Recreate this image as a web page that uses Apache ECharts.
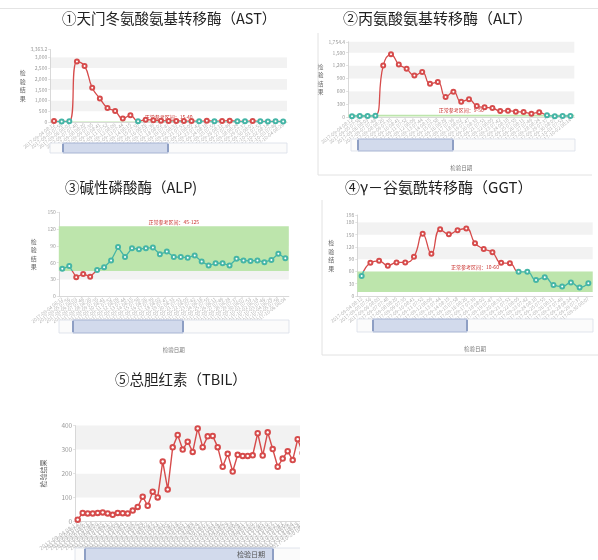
<!DOCTYPE html>
<html><head><meta charset="utf-8">
<script src="https://cdn.jsdelivr.net/npm/echarts@6/dist/echarts.min.js"></script>
<style>html,body{margin:0;padding:0;background:#fff}#c{width:598px;height:560px}</style>
</head><body><div id="c"></div>
<script>
// ---- data ----
const checkDates = ["2017-09-04 08:12","2017-09-05 07:56","2017-09-06 08:03","2017-09-07 07:48","2017-09-08 08:20","2017-09-09 07:35","2017-09-10 08:41","2017-09-11 07:52","2017-09-12 08:09","2017-09-13 07:44","2017-09-14 08:15","2017-09-15 07:58","2017-09-16 08:26","2017-09-17 07:39","2017-09-18 08:02","2017-09-19 07:47","2017-09-20 08:33","2017-09-21 07:51","2017-09-22 08:05","2017-09-23 07:42","2017-09-24 08:18","2017-09-25 07:55","2017-09-26 08:11","2017-09-27 07:49","2017-09-28 08:24","2017-09-29 07:37","2017-09-30 08:07","2017-10-01 07:53","2017-10-02 08:14","2017-10-03 07:46","2017-10-04 08:29","2017-10-05 07:58","2017-10-06 08:04","2017-10-07 07:41","2017-10-08 08:17","2017-10-09 07:50","2017-10-10 08:22","2017-10-11 07:45","2017-10-12 08:10","2017-10-13 07:57","2017-10-14 08:31","2017-10-15 07:43","2017-10-16 08:06","2017-10-17 07:54","2017-10-18 08:19","2017-10-19 07:48","2017-10-20 08:13"];

const astValues = [45, 25, 30, 2802.7, 2600, 1590, 1090, 650, 510, 160, 310, 30, 110, 80, 60, 50, 48, 45, 42, 35, 55, 38, 52, 58, 35, 32, 50, 30, 28, 33, 25];
const altValues = [20, 25, 22, 30, 1200, 1462, 1225, 1124, 969, 1047, 775, 814, 465, 590, 357, 412, 256, 225, 210, 140, 148, 124, 116, 78, 109, 39, 20, 22, 25];
const alpValues = [49, 54, 34, 40, 35, 47, 52, 64, 88, 70, 86, 84, 86, 87, 75, 80, 70, 70, 69, 73, 62, 55, 59, 59, 55, 67, 64, 63, 64, 61, 65, 76, 68];
const ggtValues = [49, 81, 86, 74, 82, 82, 96, 152, 103, 163, 151, 161, 165, 129, 115, 107, 81, 80, 59, 59, 39, 46, 27, 23, 33, 21, 31];
const tbilValues = [7, 35, 33, 33, 35, 37, 33, 27, 35, 34, 33, 45, 60, 103, 65, 124, 100, 250, 133, 309, 361, 300, 333, 290, 388, 310, 355, 357, 310, 228, 282, 208, 278, 273, 273, 276, 368, 275, 372, 302, 228, 262, 293, 256, 343, 285, 300];

const astRange = [15, 40];
const altRange = [9, 50];
const alpRange = [45, 125];
const ggtRange = [10, 60];

const panelTitles = ["①天门冬氨酸氨基转移酶（AST）", "②丙氨酸氨基转移酶（ALT）", "③碱性磷酸酶（ALP)", "④γ－谷氨酰转移酶（GGT）", "⑤总胆红素（TBIL）"];
const yName = "检验结果";
const xName = "检验日期";
const rangeLabel = "正常参考区间：";

// ---- style ----
const RED = '#d64b4b', TEAL = '#45b5a6', GREEN = '#bde5ac', FONT = '"Noto Sans CJK SC", "Noto Sans", sans-serif';

const panels = [
  {values: astValues, range: astRange, grid: {left: 50.2, top: 49.5, width: 236.8, height: 72.5}, interval: 500, smooth: true, yGap: 18, xGap: null},
  {values: altValues, range: altRange, grid: {left: 348.1, top: 41.8, width: 226.2, height: 75.2}, interval: 300, smooth: true, yGap: 21, xGap: 48},
  {values: alpValues, range: alpRange, grid: {left: 58.8, top: 212.3, width: 230, height: 84}, interval: 30, smooth: false, yGap: 22, xGap: 51},
  {values: ggtValues, range: ggtRange, grid: {left: 357.3, top: 215, width: 235.4, height: 81}, interval: 30, smooth: true, yGap: 23, xGap: 50},
  {values: tbilValues, range: null, grid: {left: 75.2, top: 425.6, width: 235, height: 95.7}, interval: 100, smooth: false, yGap: 28, xGap: null}
];

const grids = [], xAxes = [], yAxes = [], series = [], visualMaps = [];
panels.forEach((p, i) => {
  grids.push(Object.assign({containLabel: false}, p.grid));
  const isT = i === 4;
  let yMax;
  if (p.range) {
    yMax = Math.round(Math.max(Math.max(...p.values), p.range[1]) * 1.2 * 10) / 10;
  } else {
    yMax = 400;
  }
  xAxes.push({
    gridIndex: i, type: 'category', data: checkDates.slice(0, p.values.length), boundaryGap: true,
    axisLine: {lineStyle: {color: '#cfcfcf', width: 0.8}},
    axisTick: {length: 2, lineStyle: {color: '#d8d8d8', width: 0.6}},
    axisLabel: {interval: 0, rotate: isT ? 34 : 38, fontSize: isT ? 5.8 : 4.9, color: '#b4b4b4', margin: 2, fontFamily: FONT},
    name: p.xGap ? xName : '', nameLocation: 'middle', nameGap: p.xGap || 0,
    nameTextStyle: {fontSize: 5.5, color: '#777', fontFamily: FONT}
  });
  yAxes.push({
    gridIndex: i, type: 'value', min: 0, max: yMax, interval: p.interval,
    axisLine: {show: true, lineStyle: {color: '#cfcfcf', width: 0.8}},
    axisTick: {show: true, length: 2, lineStyle: {color: '#cfcfcf', width: 0.6}},
    axisLabel: {fontSize: isT ? 6.5 : 5, color: '#9a9a9a', margin: 3, fontFamily: FONT},
    splitLine: {show: false},
    splitArea: {show: true, areaStyle: {color: ['#ffffff', '#f2f2f2']}},
    name: isT ? yName : yName.split('').join('\n'), nameLocation: 'middle', nameRotate: isT ? 90 : 0, nameGap: p.yGap,
    nameTextStyle: {fontSize: isT ? 7 : 6, lineHeight: 8.5, color: '#666', fontFamily: FONT}
  });
  const s = {
    type: 'line', xAxisIndex: i, yAxisIndex: i, data: p.values, smooth: p.smooth,
    symbol: 'emptyCircle', symbolSize: isT ? 4.5 : 4, showAllSymbol: true,
    lineStyle: {width: isT ? 1.4 : 1.3}, itemStyle: {color: RED, borderWidth: isT ? 1 : 0.7}, z: 5
  };
  if (p.range) {
    s.markArea = {
      silent: true, itemStyle: {color: GREEN},
      label: {show: true, position: 'top', formatter: rangeLabel + p.range[0] + '-' + p.range[1], color: '#c9302c', fontSize: 5, fontFamily: FONT, distance: 2},
      data: [[{yAxis: p.range[0]}, {yAxis: p.range[1]}]]
    };
    visualMaps.push({type: 'piecewise', show: false, seriesIndex: i, dimension: 1,
      pieces: [{gte: p.range[0], lte: p.range[1], color: TEAL}], outOfRange: {color: RED}});
  }
  series.push(s);
});

// ---- decorations: titles, slider bars, frames ----
function txt(x, y, text, size, color, extra) {
  return Object.assign({type: 'text', x: x, y: y, z: 50, style: {text: text, fontSize: size, fontFamily: FONT, fill: color, verticalAlign: 'top'}}, extra || {});
}
function slider(x1, x2, y, h, w1, w2) {
  return [
    {type: 'rect', z: 20, shape: {x: x1, y: y, width: x2 - x1, height: h}, style: {fill: '#fbfbfb', stroke: '#d9dee8', lineWidth: 0.8}},
    {type: 'rect', z: 21, shape: {x: w1, y: y, width: w2 - w1, height: h}, style: {fill: 'rgba(160,178,218,0.45)', stroke: '#a8b6d6', lineWidth: 0.8}},
    {type: 'rect', z: 22, shape: {x: w1 - 1, y: y + 1, width: 2, height: h - 2}, style: {fill: '#8e9fc4'}},
    {type: 'rect', z: 22, shape: {x: w2 - 1, y: y + 1, width: 2, height: h - 2}, style: {fill: '#8e9fc4'}}
  ];
}
function ln(x1, y1, x2, y2, c) {
  return {type: 'line', z: 30, shape: {x1: x1, y1: y1, x2: x2, y2: y2}, style: {stroke: c || '#e2e2e2', lineWidth: 1}};
}

const elements = [].concat(
  [ln(0, 8.5, 598, 8.5, '#e4e4e4'),
   ln(318, 33, 318, 175), ln(318, 175, 592, 175),
   ln(322, 200, 322, 355), ln(322, 355, 598, 355)],
  slider(50, 287, 143, 10, 63, 168),
  slider(351, 575, 139, 12, 358, 453),
  slider(59, 289, 320, 13, 73, 183),
  slider(357, 593, 319, 13, 373, 467),
  slider(75, 310, 548, 14, 85, 273),
  [{type: 'rect', z: 40, shape: {x: 300, y: 395, width: 298, height: 165}, style: {fill: '#ffffff'}}],
  [txt(62, 11, panelTitles[0], 14.5, '#222'),
   txt(343, 11, panelTitles[1], 15, '#222'),
   txt(65, 180, panelTitles[2], 14.5, '#222'),
   txt(345, 180, panelTitles[3], 15, '#222'),
   txt(115, 372, panelTitles[4], 14.5, '#222'),
   txt(237, 551, xName, 7, '#555')]
);

const chart = echarts.init(document.getElementById('c'));
chart.setOption({
  backgroundColor: '#fff',
  animation: false,
  grid: grids, xAxis: xAxes, yAxis: yAxes, series: series, visualMap: visualMaps,
  graphic: {elements: elements}
});
</script></body></html>
